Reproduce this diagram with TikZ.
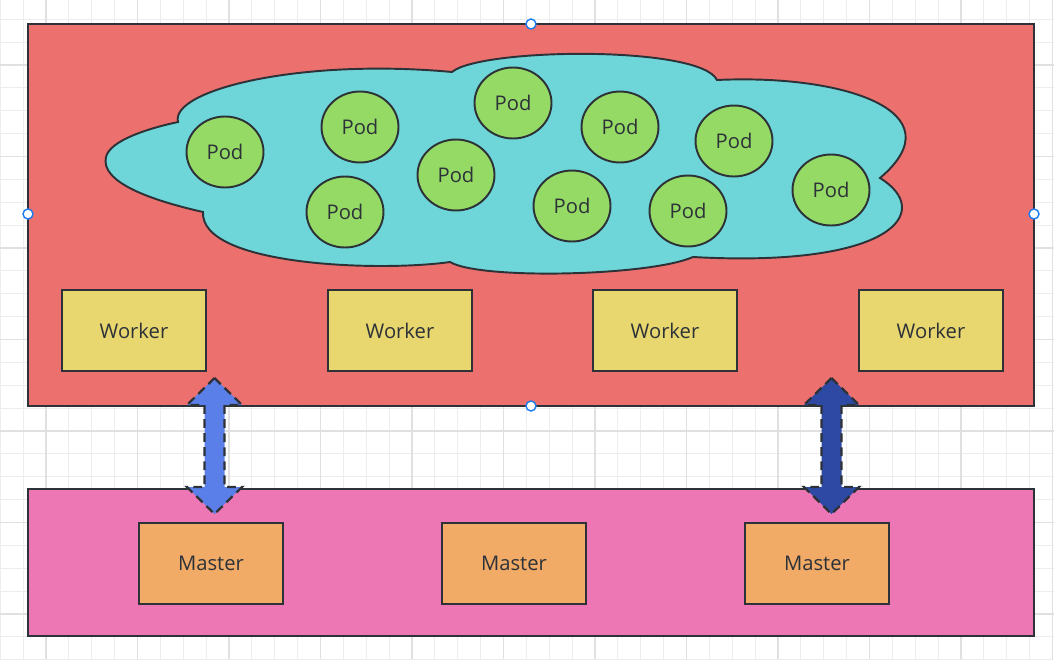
\documentclass[tikz,border=0pt]{standalone}
\usepackage{fontspec}
\setmainfont{Open Sans}
\usetikzlibrary{shapes.geometric}
\definecolor{edge}{RGB}{45,50,56}
\definecolor{clusterred}{RGB}{236,112,109}
\definecolor{masterpink}{RGB}{237,119,180}
\definecolor{cloudcyan}{RGB}{110,214,216}
\definecolor{podgreen}{RGB}{148,218,101}
\definecolor{workeryellow}{RGB}{232,214,111}
\definecolor{masterorange}{RGB}{241,171,103}
\definecolor{linklight}{RGB}{91,127,232}
\definecolor{linkdark}{RGB}{45,73,163}
\definecolor{handleblue}{RGB}{26,124,240}

\begin{document}
\begin{tikzpicture}[ x=0.02cm, y=-0.02cm, line width=1.1pt,
    gridline/.style={ draw=black!7, line width=0.6pt },
    gridmajor/.style={ draw=black!12, line width=0.7pt },
    box/.style={ draw=edge, fill=#1, minimum width=2.88cm,
    minimum height=1.62cm, inner sep=0pt,
    font=\fontsize{11.5}{14}\selectfont, text=edge },
    pod/.style={ ellipse, draw=edge, fill=podgreen, minimum width=1.54cm,
    minimum height=1.42cm, inner sep=0pt,
    font=\fontsize{11.5}{14}\selectfont, text=edge },
    link/.style={ draw=edge, fill=#1, line width=1.3pt,
    dash pattern=on 5pt off 3pt, line join=miter },
    handle/.style={ circle, draw=handleblue, fill=white, line width=0.8pt,
    minimum size=0.2cm, inner sep=0pt } ]
  \useasboundingbox (0,0) rectangle (1054,659);
  % background grid
  \foreach \i in {0,...,46} \draw[gridline] (0.2+\i*22.875,0) -- ++(0,659);
  \foreach \i in {0,...,28} \draw[gridline] (0,19.25+\i*22.875) -- ++(1054,0);
  \foreach \i in {2,6,...,46} \draw[gridmajor] (0.2+\i*22.875,0) -- ++(0,659);
  \foreach \i in {2,6,...,26} \draw[gridmajor] (0,19.25+\i*22.875) -- ++(1054,0);
  % clusters
  \draw[edge, fill=clusterred] (28,24) rectangle (1034,406);
  \draw[edge, fill=masterpink] (28,489) rectangle (1034,636);
  % pod network
  \draw[edge, fill=cloudcyan] (178,122)
    .. controls (170,90) and (300,58) .. (452,72)
    .. controls (480,48) and (700,45) .. (717,80)
    .. controls (845,74) and (958,112) .. (880,178)
    .. controls (935,212) and (892,268) .. (693,257)
    .. controls (650,276) and (480,280) .. (450,262)
    .. controls (380,272) and (200,266) .. (203,212)
    .. controls (150,200) and (100,182) .. (106,157)
    .. controls (110,140) and (150,128) .. (178,122) -- cycle;
  \foreach \x/\y/\n in {225/152/1,360/127/2,345/212/3,513/103/4,456/175/5,
    620/127/6,572/206/7,688/211/8,734/141/9,831/190/10}
  \node[pod] (p\n) at (\x,\y) {Pod};
  \foreach \x/\n in {134/1,400/2,665/3,931/4}
  \node[box=workeryellow] (w\n) at (\x,330.5) {Worker};
  \foreach \x/\n in {211/1,514/2,817/3}
  \node[box=masterorange] (m\n) at (\x,563.5) {Master};
  % links between the clusters
  \foreach \x/\c/\n in {214.5/linklight/1,831.5/linkdark/2} {
    \coordinate (l\n) at (\x,446);
    \draw[link=\c] (\x,378) -- ++(27.5,27) -- ++(-17.5,0) -- (\x+10,487)
      -- ++(17.5,0) -- (\x,514) -- ++(-27.5,-27) -- ++(17.5,0)
      -- (\x-10,405) -- ++(-17.5,0) -- cycle;
  }
  % selection handles
  \foreach \x/\y/\n in {531/24/n,28/214/w,1034/214/e,531/406/s}
  \node[handle] (h\n) at (\x,\y) {};
\end{tikzpicture}
\end{document}
